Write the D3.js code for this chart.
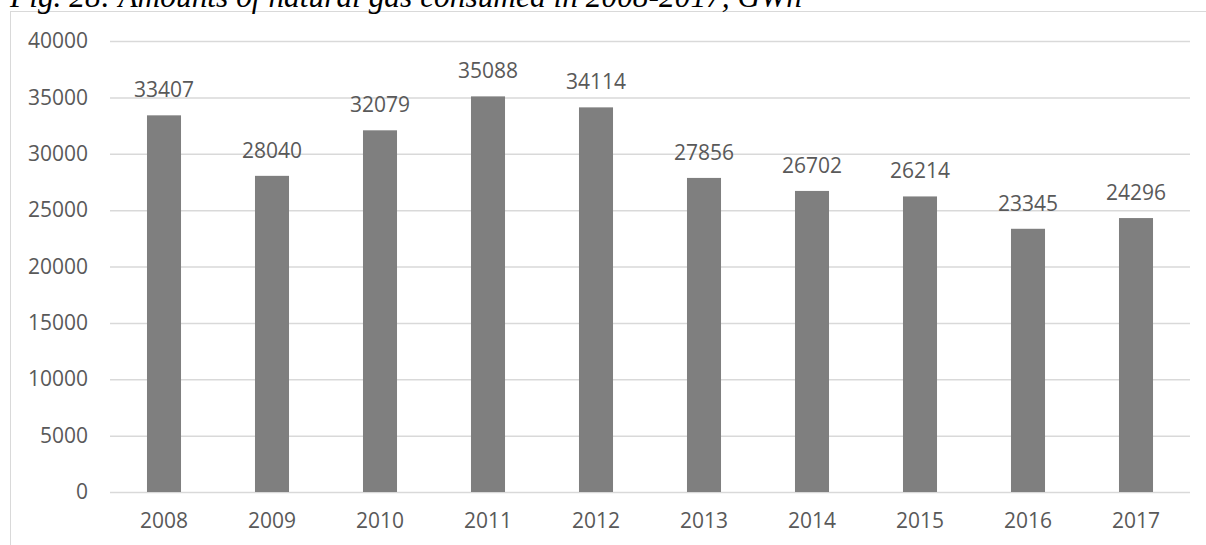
<!DOCTYPE html>
<html lang="en">
<head>
    <meta charset="UTF-8">
    <title>Natural gas consumed 2008-2017</title>
    <script src="https://d3js.org/d3.v7.min.js"></script>
    <style>
        body { margin: 0; background: #fff; }
        svg { display: block; }
        .title { font-family: "Liberation Serif", "Times New Roman", serif; font-style: italic; fill: #000; }
        .tick text, .label { font-family: "Open Sans", sans-serif; fill: #595959; }
    </style>
</head>
<body>
    <svg width="1206" height="545"></svg>

    <script>
        // data
        const years = ["2008", "2009", "2010", "2011", "2012", "2013", "2014", "2015", "2016", "2017"];
        const gasGWh = [33407, 28040, 32079, 35088, 34114, 27856, 26702, 26214, 23345, 24296];
        const yTicks = [0, 5000, 10000, 15000, 20000, 25000, 30000, 35000, 40000];

        const svg = d3.select("svg");

        // chart frame (only top and left edges fall inside the picture)
        svg.append("rect")
            .attr("x", 10.5).attr("y", 11.5)
            .attr("width", 1300).attr("height", 600)
            .attr("fill", "none").attr("stroke", "#d9d9d9");

        // caption sits above the frame and is clipped by the top edge, as in the source
        svg.append("text")
            .attr("class", "title")
            .attr("x", 10).attr("y", 7)
            .attr("font-size", 31.4)
            .text("Fig. 28: Amounts of natural gas consumed in 2008-2017, GWh");

        const x = d3.scaleBand()
            .domain(years)
            .range([110, 1190])
            .paddingInner(0.685)
            .paddingOuter(0.3425);

        const y = d3.scaleLinear()
            .domain([0, 40000])
            .range([492, 41]);

        // grid + y labels
        const yAxis = svg.append("g")
            .attr("transform", "translate(110,0)")
            .call(d3.axisLeft(y).tickValues(yTicks).tickSize(-1080).tickPadding(22).tickFormat(d3.format("d")));
        yAxis.select(".domain").remove();
        yAxis.selectAll("line").attr("stroke", "#d9d9d9").attr("stroke-width", 1.5);
        yAxis.selectAll("text").attr("font-size", 21);

        // x labels
        const xAxis = svg.append("g")
            .attr("transform", "translate(0,492)")
            .call(d3.axisBottom(x).tickSize(0).tickPadding(21));
        xAxis.select(".domain").remove();
        xAxis.selectAll("text").attr("font-size", 21);

        // bars
        svg.append("g").selectAll("rect")
            .data(gasGWh)
            .join("rect")
            .attr("x", (d, i) => x(years[i]))
            .attr("width", x.bandwidth())
            .attr("y", d => y(d))
            .attr("height", d => y(0) - y(d))
            .attr("fill", "#7f7f7f");

        // value labels
        svg.append("g").selectAll("text")
            .data(gasGWh)
            .join("text")
            .attr("class", "label")
            .attr("x", (d, i) => x(years[i]) + x.bandwidth() / 2)
            .attr("y", d => y(d) - 18)
            .attr("text-anchor", "middle")
            .attr("font-size", 21)
            .text(d => d);
    </script>
</body>
</html>
